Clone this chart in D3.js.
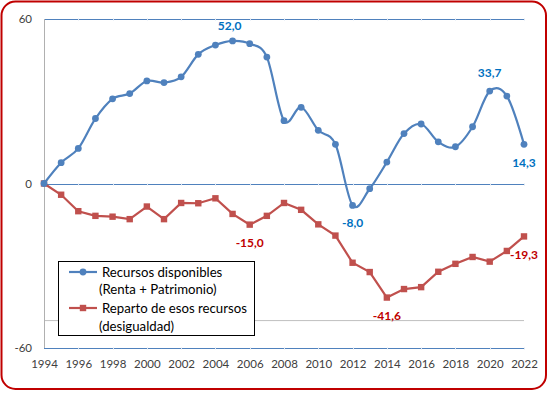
<!DOCTYPE html>
<html><head><meta charset="utf-8">
<script src="https://cdn.jsdelivr.net/npm/d3@7"></script>
<style>
html,body{margin:0;padding:0;background:#fff;}
svg{display:block;font-family:Lato,"Open Sans",sans-serif;}
</style></head>
<body><svg id="c" width="548" height="393"></svg>
<script>
const years = d3.range(1994, 2023);
const recursos = [0,7.6,12.8,23.7,30.9,32.8,37.4,36.8,38.9,47.1,50.5,52.0,51.0,46.1,22.9,27.8,19.4,14.3,-8.0,-1.9,7.8,18.2,21.7,15.2,13.4,20.7,33.7,31.9,14.3];
const reparto = [0,-4.1,-10.1,-11.8,-12.1,-13.0,-8.4,-13.0,-7.1,-7.2,-5.4,-11.1,-15.0,-11.8,-7.1,-9.6,-14.9,-19.0,-28.9,-32.3,-41.6,-38.5,-37.8,-32.2,-29.3,-26.8,-28.5,-24.6,-19.3];
const yTicks = [60, 0, -60];
const xTicks = d3.range(1994, 2023, 2);
const seriesNames = ["Recursos disponibles", "(Renta + Patrimonio)", "Reparto de esos recursos", "(desigualdad)"];
const blueLabelYears = [2005, 2012, 2020, 2022];
const redLabelYears = [2006, 2014, 2022];

const BLUE = "#4f81bd", RED = "#c0504d", BLUE_T = "#0070c0", RED_T = "#c00000";
const svg = d3.select("#c");
const x = d3.scaleLinear().domain([1994, 2022]).range([44, 524]);
const y = d3.scaleLinear().domain([-60, 60]).range([348, 19]);
const fmt = v => d3.format(".1f")(v).replace(".", ",").replace("\u2212", "-");

// border
svg.append("rect").attr("x",1.5).attr("y",1.5).attr("width",544.5).attr("height",387.5)
  .attr("rx",14).attr("fill","#fff").attr("stroke","#c00000").attr("stroke-width",2);

// gray gridline at -50
svg.append("line").attr("x1",x(1994)).attr("x2",x(2022)).attr("y1",y(-50)).attr("y2",y(-50))
  .attr("stroke","#bfbfbf").attr("stroke-width",1);
// blue horizontal lines
yTicks.forEach(t=>{
  svg.append("line").attr("x1",x(1994)).attr("x2",x(2022)).attr("y1",Math.round(y(t))+0.5).attr("y2",Math.round(y(t))+0.5)
    .attr("stroke",BLUE).attr("stroke-width",1.2);
  xTicks.slice(1).forEach(yr=>{
    svg.append("line").attr("x1",Math.round(x(yr))+0.5).attr("x2",Math.round(x(yr))+0.5)
      .attr("y1",Math.round(y(t))-0.5).attr("y2",Math.round(y(t))+1.5).attr("stroke","#dbe5f1").attr("stroke-width",1);
  });
});
// left axis
svg.append("line").attr("x1",x(1994)+0.5).attr("x2",x(1994)+0.5).attr("y1",y(60)).attr("y2",y(-60))
  .attr("stroke","#b0b0b0").attr("stroke-width",1);

// y tick labels
const yAxis = d3.axisLeft(y).tickValues(yTicks).tickSize(0).tickPadding(0).tickFormat(d=>String(d));
const ya = svg.append("g").attr("transform",`translate(32,0)`).call(yAxis);
ya.select(".domain").remove();
ya.selectAll("text").attr("font-family","Lato, sans-serif").attr("font-size",11.5).attr("fill","#404040");

// x tick labels
const xAxis = d3.axisBottom(x).tickValues(xTicks).tickSize(0).tickPadding(0).tickFormat(d=>String(d));
const xa = svg.append("g").attr("transform",`translate(0,360)`).call(xAxis);
xa.select(".domain").remove();
xa.selectAll("text").attr("font-family","Lato, sans-serif").attr("font-size",11.5).attr("fill","#404040");

// red series
const redLine = d3.line().x((d,i)=>x(years[i])).y(d=>y(d));
svg.append("path").datum(reparto).attr("d",redLine).attr("fill","none").attr("stroke",RED).attr("stroke-width",2.2);
svg.selectAll(".rm").data(reparto).join("rect").attr("class","rm")
  .attr("x",(d,i)=>x(years[i])-3.2).attr("y",d=>y(d)-3.2).attr("width",6.4).attr("height",6.4).attr("fill",RED);

// blue series (smoothed)
const blueLine = d3.line().curve(d3.curveCardinal.tension(0)).x((d,i)=>x(years[i])).y(d=>y(d));
svg.append("path").datum(recursos).attr("d",blueLine).attr("fill","none").attr("stroke",BLUE).attr("stroke-width",2.2);
svg.selectAll(".bm").data(recursos).join("circle").attr("class","bm")
  .attr("cx",(d,i)=>x(years[i])).attr("cy",d=>y(d)).attr("r",3.4).attr("fill",BLUE);

// data labels
const blueOff = {2005:[-3,-11],2012:[0,22],2020:[0,-14],2022:[0,23]};
blueLabelYears.forEach(yr=>{
  const v = recursos[yr-1994];
  svg.append("text").attr("x",x(yr)+blueOff[yr][0]).attr("y",y(v)+blueOff[yr][1])
    .attr("text-anchor","middle").attr("font-size",12).attr("font-weight","bold").attr("fill",BLUE_T).text(fmt(v));
});
const redOff = {2006:[0,22],2014:[0,22],2022:[0,23]};
redLabelYears.forEach(yr=>{
  const v = reparto[yr-1994];
  svg.append("text").attr("x",x(yr)+redOff[yr][0]).attr("y",y(v)+redOff[yr][1])
    .attr("text-anchor","middle").attr("font-size",12).attr("font-weight","bold").attr("fill",RED_T).text(fmt(v));
});

// legend
const lg = svg.append("g");
lg.append("rect").attr("x",58.5).attr("y",261.5).attr("width",196).attr("height",74).attr("fill","#fff").attr("stroke","#000").attr("stroke-width",1);
lg.append("line").attr("x1",69).attr("x2",97).attr("y1",272).attr("y2",272).attr("stroke",BLUE).attr("stroke-width",2.2);
lg.append("circle").attr("cx",83).attr("cy",272).attr("r",3.4).attr("fill",BLUE);
lg.append("line").attr("x1",69).attr("x2",97).attr("y1",308).attr("y2",308).attr("stroke",RED).attr("stroke-width",2.2);
lg.append("rect").attr("x",79.8).attr("y",304.8).attr("width",6.4).attr("height",6.4).attr("fill",RED);
const lgPos = [[102,276.5],[99,294],[102,312.5],[99,330.5]];
seriesNames.forEach((t,i)=>{
  lg.append("text").attr("x",lgPos[i][0]).attr("y",lgPos[i][1]).attr("font-size",13.2).attr("fill","#000").text(t);
});
</script></body></html>
